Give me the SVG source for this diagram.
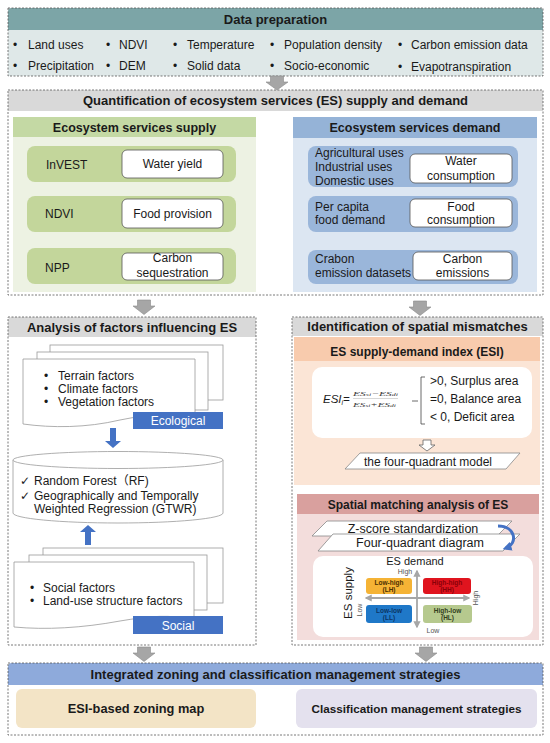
<svg xmlns="http://www.w3.org/2000/svg" width="550" height="743" viewBox="0 0 550 743">
<defs>
<style>
text { font-family: 'Liberation Sans', Arial, 'DejaVu Sans', 'Noto Sans CJK SC', sans-serif; fill: #1a1a1a; }
.h { font-size: 13px; font-weight: bold; text-anchor: middle; }
.sh { font-size: 12.5px; font-weight: bold; text-anchor: middle; }
.t { font-size: 12px; }
.c { text-anchor: middle; }
.dash { fill: none; stroke: #555; stroke-width: 0.8; stroke-dasharray: 2 1.5; }
.wbox { fill: #fff; stroke: #555; stroke-width: 0.8; }
.garrow { fill: #a6a6a6; stroke: #8a8a8a; stroke-width: 0.6; }
.page { fill: #fff; stroke: #9a9a9a; stroke-width: 0.8; }
.lbl { fill: #4472c4; }
.lblt { font-size: 12px; fill: #fff; text-anchor: middle; }
.q { font-size: 6.5px; font-weight: bold; text-anchor: middle; }
.sm { font-size: 7px; fill: #555; }
.para { fill: #fff; stroke: #888; stroke-width: 0.8; }
.frac { font-family: 'Liberation Serif', 'Times New Roman', serif; font-style: italic; font-size: 6.5px; fill: #333; }
</style>
<marker id="ga" viewBox="0 0 10 10" refX="8" refY="5" markerWidth="4" markerHeight="4" orient="auto-start-reverse">
<path d="M0,0 L10,5 L0,10 z" fill="#a6a6a6"/>
</marker>
<marker id="ba" viewBox="0 0 10 10" refX="6" refY="5" markerWidth="3" markerHeight="3" orient="auto">
<path d="M0,0 L10,5 L0,10 z" fill="#4472c4"/>
</marker>
</defs>
<rect width="550" height="743" fill="#fff"/>

<g id="data-preparation">
<rect x="8" y="8" width="535" height="68" fill="#dfe8e8"/>
<path d="M8,30 V12 Q8,8 12,8 H539 Q543,8 543,12 V30 Z" fill="#7ca5a7"/>
<rect class="dash" x="8" y="8" width="535" height="68"/>
<text class="h" x="275.5" y="23.5">Data preparation</text>
<text class="t" x="13" y="49">•</text><text class="t" x="28" y="49">Land uses</text>
<text class="t" x="106" y="49">•</text><text class="t" x="119" y="49">NDVI</text>
<text class="t" x="173" y="49">•</text><text class="t" x="187" y="49">Temperature</text>
<text class="t" x="270" y="49">•</text><text class="t" x="284" y="49">Population density</text>
<text class="t" x="398" y="49">•</text><text class="t" x="411" y="49">Carbon emission data</text>
<text class="t" x="13" y="70">•</text><text class="t" x="28" y="70">Precipitation</text>
<text class="t" x="106" y="70">•</text><text class="t" x="119" y="70">DEM</text>
<text class="t" x="173" y="70">•</text><text class="t" x="187" y="70">Solid data</text>
<text class="t" x="270" y="70">•</text><text class="t" x="284" y="70">Socio-economic</text>
<text class="t" x="398" y="71">•</text><text class="t" x="411" y="71">Evapotranspiration</text>
</g>

<g id="quantification">
<rect x="8" y="90" width="535" height="205" fill="#fff"/>
<path d="M8,111 V94 Q8,90 12,90 H539 Q543,90 543,94 V111 Z" fill="#d9d9d9"/>
<rect class="dash" x="8" y="90" width="535" height="205"/>
<text class="h" x="275.5" y="105">Quantification of ecosystem services (ES) supply and demand</text>
</g>

<g id="es-supply">
<rect x="13" y="117" width="243" height="175" fill="#edf2e3"/>
<rect x="13" y="117" width="243" height="20" fill="#c4d9a4"/>
<text class="sh" x="134.5" y="131.5">Ecosystem services supply</text>
<rect x="27" y="146" width="209" height="36" rx="8" fill="#c3d69b"/>
<rect x="27" y="196" width="209" height="36" rx="8" fill="#c3d69b"/>
<rect x="27" y="248" width="209" height="36" rx="8" fill="#c3d69b"/>
<rect class="wbox" x="122" y="150" width="101" height="28" rx="5"/>
<rect class="wbox" x="122" y="199" width="101" height="29" rx="5"/>
<rect class="wbox" x="122" y="253" width="101" height="27" rx="5"/>
<text class="t" x="46" y="169">InVEST</text>
<text class="t" x="45" y="218">NDVI</text>
<text class="t" x="45" y="272">NPP</text>
<text class="t c" x="172.5" y="168">Water yield</text>
<text class="t c" x="172.5" y="218">Food provision</text>
<text class="t c" x="172.5" y="262">Carbon</text>
<text class="t c" x="172.5" y="277">sequestration</text>
</g>

<g id="es-demand">
<rect x="293" y="117" width="244" height="175" fill="#dce6f2"/>
<rect x="293" y="117" width="244" height="21" fill="#95b3d7"/>
<text class="sh" x="415" y="132">Ecosystem services demand</text>
<rect x="308" y="146" width="210" height="41" rx="8" fill="#9ab6da"/>
<rect x="308" y="196" width="210" height="36" rx="8" fill="#9ab6da"/>
<rect x="308" y="250" width="210" height="34" rx="8" fill="#9ab6da"/>
<rect class="wbox" x="410" y="154" width="102" height="29" rx="5"/>
<rect class="wbox" x="410" y="199" width="102" height="28" rx="5"/>
<rect class="wbox" x="413" y="252" width="99" height="28" rx="5"/>
<text class="t" x="315" y="157">Agricultural uses</text>
<text class="t" x="315" y="171">Industrial uses</text>
<text class="t" x="315" y="185">Domestic uses</text>
<text class="t c" x="461" y="165">Water</text>
<text class="t c" x="461" y="180">consumption</text>
<text class="t" x="315" y="211">Per capita</text>
<text class="t" x="315" y="224">food demand</text>
<text class="t c" x="461" y="211">Food</text>
<text class="t c" x="461" y="224">consumption</text>
<text class="t" x="315" y="263">Crabon</text>
<text class="t" x="315" y="277">emission datasets</text>
<text class="t c" x="462.5" y="263">Carbon</text>
<text class="t c" x="462.5" y="277">emissions</text>
</g>

<g id="analysis-factors">
<path d="M8,337 V321 Q8,317 12,317 H252 Q256,317 256,321 V337 Z" fill="#d9d9d9"/>
<rect class="dash" x="8" y="317" width="248" height="328"/>
<text class="h" x="132" y="331.5">Analysis of factors influencing ES</text>
</g>

<g id="ecological-factors">
<rect class="page" x="50" y="345" width="173" height="55"/>
<rect class="page" x="37" y="352" width="171" height="58"/>
<path class="page" d="M23,359 H195 V418 C172,412 150,414 120,420 C86,428 52,428 23,424 Z"/>
<text class="t" x="44" y="380">•</text><text class="t" x="58" y="380">Terrain factors</text>
<text class="t" x="44" y="393">•</text><text class="t" x="58" y="393">Climate factors</text>
<text class="t" x="44" y="406">•</text><text class="t" x="58" y="406">Vegetation factors</text>
<rect class="lbl" x="133" y="412" width="90" height="17"/>
<text class="lblt" x="178" y="424.5">Ecological</text>
</g>

<g id="models">
<path d="M13,460 V513 A105,10 0 0,0 223,513 V460" fill="#fff" stroke="#9a9a9a" stroke-width="0.8"/>
<ellipse cx="118" cy="460" rx="105" ry="8.5" fill="#fff" stroke="#9a9a9a" stroke-width="0.8"/>
<text class="t" x="20" y="485">✓</text><text class="t" x="34" y="485">Random Forest（RF)</text>
<text class="t" x="20" y="500">✓</text><text class="t" x="34" y="500">Geographically and Temporally</text>
<text class="t" x="34" y="513">Weighted Regression (GTWR)</text>
</g>

<g id="social-factors">
<rect class="page" x="43" y="548" width="180" height="55"/>
<rect class="page" x="29" y="555" width="178" height="55"/>
<path class="page" d="M14,562 H194 V620 C170,614 150,616 120,621 C82,628 46,630 14,627 Z"/>
<text class="t" x="30" y="592">•</text><text class="t" x="43" y="592">Social factors</text>
<text class="t" x="30" y="605">•</text><text class="t" x="43" y="605">Land-use structure factors</text>
<rect class="lbl" x="133" y="616" width="90" height="18"/>
<text class="lblt" x="178" y="629.5">Social</text>
</g>

<g id="spatial-mismatch">
<path d="M292,336 V321 Q292,317 296,317 H539 Q543,317 543,321 V336 Z" fill="#d9d9d9"/>
<rect class="dash" x="292" y="317" width="251" height="328"/>
<text class="h" x="417.5" y="331">Identification of spatial mismatches</text>
</g>

<g id="esi">
<rect x="294" y="337" width="246" height="148" fill="#fbe5d6"/>
<rect x="294" y="337" width="246" height="24" fill="#f8cbad"/>
<text class="sh" x="417" y="356" style="font-size:12px">ES supply-demand index (ESI)</text>
<rect x="312" y="367" width="220" height="71" rx="10" fill="#fff"/>
<text x="323" y="403" style="font-size:11.5px;font-style:italic">ESI<tspan style="font-size:7px" dy="2">i</tspan><tspan dy="-2">=</tspan></text>
<text class="frac" x="353" y="396" textLength="45" lengthAdjust="spacingAndGlyphs">ES<tspan style="font-size:4.5px">si</tspan>−ES<tspan style="font-size:4.5px">di</tspan></text>
<line x1="353" y1="398.5" x2="398" y2="398.5" stroke="#777" stroke-width="0.3"/>
<text class="frac" x="353" y="406.5" textLength="43" lengthAdjust="spacingAndGlyphs">ES<tspan style="font-size:4.5px">si</tspan>+ES<tspan style="font-size:4.5px">di</tspan></text>
<line x1="412" y1="401" x2="418" y2="401" stroke="#444" stroke-width="0.8"/>
<path d="M425,377 H421 V424 H425" fill="none" stroke="#444" stroke-width="0.8"/>
<text class="t" x="430" y="385">&gt;0, Surplus area</text>
<text class="t" x="430" y="403">=0, Balance area</text>
<text class="t" x="430" y="421">&lt; 0, Deficit area</text>
<polygon points="423,440 431,440 431,445 435,445 427,451 419,445 423,445" fill="#fff" stroke="#666" stroke-width="0.8"/>
<polygon class="para" points="360,453 520,453 506,469 345,469"/>
<text class="t c" x="428" y="465.5">the four-quadrant model</text>
</g>

<g id="spatial-matching">
<rect x="297" y="494" width="242" height="146" fill="#f3dddc"/>
<rect x="297" y="494" width="242" height="20" fill="#d9a09e"/>
<text class="sh" x="418" y="508.5" style="font-size:12px">Spatial matching analysis of ES</text>
<polygon class="para" points="327,521 512,521 497,536 312,536"/>
<polygon class="para" points="333,534 520,534 503,551 318,551"/>
<text class="t c" x="413" y="532.5" style="font-size:12.5px">Z-score standardization</text>
<text class="t c" x="420" y="547" style="font-size:12.5px">Four-quadrant diagram</text>
<path d="M498,526 C516,526 518,544 506,548" fill="none" stroke="#4472c4" stroke-width="3" marker-end="url(#ba)"/>
<rect x="313" y="556" width="220" height="81" rx="10" fill="#fff"/>
<text class="c" x="415" y="565" style="font-size:11px">ES demand</text>
<text class="sm c" x="405" y="574">High</text>
<text class="sm c" x="433" y="633">Low</text>
<text class="c" transform="translate(352,593) rotate(-90)" style="font-size:11.5px">ES supply</text>
<text class="sm c" transform="translate(362,610) rotate(-90)">Low</text>
<text class="sm c" transform="translate(478,598) rotate(-90)">High</text>
<line x1="417" y1="627" x2="417" y2="571" stroke="#a6a6a6" stroke-width="1.8" marker-start="url(#ga)" marker-end="url(#ga)"/>
<line x1="366" y1="598" x2="469" y2="598" stroke="#a6a6a6" stroke-width="1.8" marker-start="url(#ga)" marker-end="url(#ga)"/>
<rect x="366" y="578" width="46" height="16" rx="3" fill="#f5b335"/>
<rect x="423" y="578" width="48" height="16" rx="3" fill="#e0141e"/>
<rect x="366" y="605" width="46" height="18" rx="3" fill="#1f78c8"/>
<rect x="423" y="605" width="49" height="18" rx="3" fill="#b6c98e"/>
<text class="q" x="389" y="585" style="fill:#4a3000">Low-high</text>
<text class="q" x="389" y="592" style="fill:#4a3000">(LH)</text>
<text class="q" x="447" y="585" style="fill:#8a0008">High-high</text>
<text class="q" x="447" y="592" style="fill:#8a0008">(HH)</text>
<text class="q" x="389" y="613" style="fill:#0b3566">Low-low</text>
<text class="q" x="389" y="620" style="fill:#0b3566">(LL)</text>
<text class="q" x="447.5" y="613" style="fill:#33401c">High-low</text>
<text class="q" x="447.5" y="620" style="fill:#33401c">(HL)</text>
</g>

<g id="integrated-zoning">
<path d="M8,685 V667 Q8,663 12,663 H539 Q543,663 543,667 V685 Z" fill="#8eaadb"/>
<rect class="dash" x="8" y="663" width="535" height="72"/>
<text class="h" x="275.5" y="678.5">Integrated zoning and classification management strategies</text>
</g>
<g id="esi-zoning-map">
<rect x="16" y="689" width="240" height="39" rx="6" fill="#f3e4c6"/>
<text class="c" x="136" y="712.5" style="font-size:12.8px;font-weight:bold">ESI-based zoning map</text>
</g>
<g id="classification-strategies">
<rect x="296" y="689" width="241" height="39" rx="6" fill="#e4e1ee"/>
<text class="c" x="416.5" y="712.5" style="font-size:11.7px;font-weight:bold">Classification management strategies</text>
</g>

<g id="connectors">
<polygon class="garrow" points="270.5,76 283.5,76 283.5,82 288,82 277,90 266,82 270.5,82"/>
<polygon class="garrow" points="137.5,300 150.5,300 150.5,306 155,306 144,314.5 133,306 137.5,306"/>
<polygon class="garrow" points="413.5,301 426.5,301 426.5,307 431,307 420,315.5 409,307 413.5,307"/>
<polygon class="garrow" points="137.5,647 150.5,647 150.5,653 155,653 144,661.5 133,653 137.5,653"/>
<polygon class="garrow" points="419.5,647 432.5,647 432.5,653 437,653 426,661.5 415,653 419.5,653"/>
<polygon fill="#4472c4" points="110,428 116,428 116,441 121,441 113,448 105,441 110,441"/>
<polygon fill="#4472c4" points="85,545 91,545 91,532 96,532 88,525 80,532 85,532"/>
</g>
</svg>
